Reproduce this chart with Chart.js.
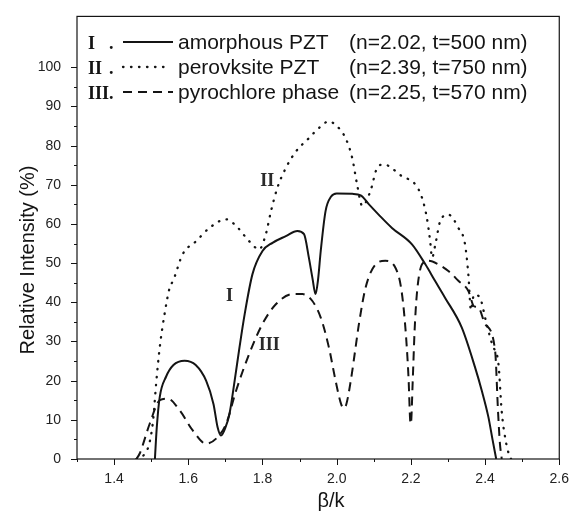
<!DOCTYPE html>
<html>
<head>
<meta charset="utf-8">
<title>Relative Intensity vs β/k</title>
<script src="https://cdn.jsdelivr.net/npm/chart.js"></script>
<style>
  body { margin: 0; background: #fff; }
  #wrap { width: 573px; height: 516px; }
</style>
</head>
<body>
<div id="wrap"><canvas id="chart" width="573" height="516"></canvas></div>
<script>
// curve I - amorphous PZT (solid)
const amorphousX = [1.51, 1.515, 1.523, 1.54, 1.56, 1.59, 1.62, 1.648, 1.668, 1.679, 1.688, 1.70, 1.711, 1.725, 1.738,
  1.752, 1.773, 1.80, 1.827, 1.863, 1.894, 1.912, 1.925, 1.935, 1.943, 1.950, 1.957, 1.970, 1.985, 2.00,
  2.042, 2.065, 2.087, 2.113, 2.149, 2.203, 2.239, 2.265, 2.292, 2.337, 2.373, 2.391, 2.409, 2.42, 2.43];
const amorphousY = [0, 8, 15.8, 21, 24, 25.1, 24, 20, 14, 8.1, 6.0, 8, 11.5, 20, 28.5,
  37, 47.2, 53.1, 55.2, 56.9, 58.2, 57.4, 51.4, 46, 42.1, 46, 53.1, 63.3, 67, 67.8,
  67.7, 67.3, 65, 62.4, 59, 54.8, 49.7, 45.5, 41.2, 33.6, 23.4, 17.5, 10.7, 5, 0];

// curve II - perovskite PZT (dotted)
const perovskiteX = [1.46, 1.48, 1.495, 1.505, 1.514, 1.523, 1.536, 1.55, 1.559, 1.585, 1.621, 1.657, 1.702, 1.729,
  1.756, 1.782, 1.791, 1.809, 1.823, 1.84, 1.863, 1.89, 1.925, 1.952, 1.979, 1.997, 2.024, 2.042, 2.055,
  2.069, 2.091, 2.109, 2.127, 2.176, 2.212, 2.23, 2.243, 2.252, 2.257, 2.266, 2.279, 2.301, 2.328, 2.346,
  2.355, 2.362, 2.37, 2.386, 2.404, 2.42, 2.436, 2.445, 2.455, 2.465, 2.47];
const perovskiteY = [0, 1, 4, 9.8, 20, 28.5, 37, 43.8, 45.5, 52.3, 55.6, 59, 61.2, 59.5,
  56.5, 53.9, 53.5, 57.4, 63.3, 69.2, 74.3, 78.5, 81.9, 84.5, 86.2, 85.3, 81.9, 76.8, 70.1,
  64.6, 68.4, 74.3, 75.2, 72.2, 70.1, 66.7, 61.6, 55.6, 51.4, 54.8, 60.7, 62.4, 59, 54.8,
  47, 38, 42, 41.2, 34.5, 29, 24.3, 12, 5, 1, 0];

// curve III - pyrochlore phase (dashed)
const pyrochloreX = [1.46, 1.469, 1.496, 1.523, 1.545, 1.577, 1.612, 1.648, 1.675, 1.702, 1.729, 1.764, 1.80,
  1.836, 1.881, 1.908, 1.934, 1.957, 1.979, 1.997, 2.012, 2.019, 2.026, 2.038, 2.051, 2.06, 2.078, 2.105,
  2.131, 2.158, 2.172, 2.181, 2.189, 2.194, 2.198, 2.2, 2.205, 2.21, 2.216, 2.23, 2.248, 2.274, 2.301,
  2.328, 2.355, 2.37, 2.382, 2.40, 2.427, 2.435, 2.44, 2.445];
const pyrochloreY = [0, 1.4, 9, 15, 15.4, 12.4, 7.3, 3.9, 5.2, 9, 17.5, 26.8, 34.5,
  39.5, 42.1, 42.1, 40.4, 36.1, 28.5, 20, 14, 13, 14, 20, 28.5, 34.5, 43.8, 49.7,
  50.6, 48.9, 44.6, 38, 28.5, 20, 10, 9, 20, 32.7, 42, 49.7, 50.6, 49.7, 48,
  45.5, 42.9, 39, 38.7, 34.5, 27.7, 12, 4, 0];

// legend / label texts
const romanNumerals = ['I', 'II', 'III'];
const seriesNames = ['amorphous PZT', 'perovksite PZT', 'pyrochlore phase'];
const seriesParams = ['(n=2.02, t=500 nm)', '(n=2.39, t=750 nm)', '(n=2.25, t=570 nm)'];

// where the roman labels sit inside the plot (data units)
const markX = [1.711, 1.813, 1.818];
const markY = [41.6, 70.9, 28.9];

// axes
const xMajorTicks = [1.4, 1.6, 1.8, 2.0, 2.2, 2.4, 2.6];
const yMajorTicks = [0, 10, 20, 30, 40, 50, 60, 70, 80, 90, 100];
const xRange = [1.3, 2.6];
const yRange = [0, 113];

const styles = [
  { borderDash: [], borderWidth: 2 },
  { borderDash: [0.5, 7.5], borderWidth: 2.3 },
  { borderDash: [9, 6], borderWidth: 2 }
];

const toPoints = (xs, ys) => xs.map((x, i) => ({ x: x, y: ys[i] }));
const seriesData = [
  toPoints(amorphousX, amorphousY),
  toPoints(perovskiteX, perovskiteY),
  toPoints(pyrochloreX, pyrochloreY)
];

const INK = '#141414';
const SANS = '"Liberation Sans", Arial, sans-serif';
const SERIF = '"Liberation Serif", "Times New Roman", serif';

// frame, tick marks, roman labels and the boxed legend
const decorations = {
  id: 'decorations',
  afterDraw(chart) {
    const { ctx, chartArea: a, scales: { x, y } } = chart;
    ctx.save();
    ctx.strokeStyle = INK;
    ctx.lineWidth = 1.2;
    ctx.strokeRect(a.left, a.top, a.right - a.left, a.bottom - a.top);

    ctx.lineWidth = 1;
    x.ticks.forEach(t => {
      const px = Math.round(x.getPixelForValue(t.value)) + 0.5;
      const len = t.label ? 6 : 3;
      ctx.beginPath();
      ctx.moveTo(px, a.bottom);
      ctx.lineTo(px, a.bottom + len);
      ctx.stroke();
    });
    y.ticks.forEach(t => {
      const py = Math.round(y.getPixelForValue(t.value)) + 0.5;
      const len = t.label ? 6 : 3;
      ctx.beginPath();
      ctx.moveTo(a.left, py);
      ctx.lineTo(a.left - len, py);
      ctx.stroke();
    });

    // roman numerals next to the curves
    ctx.fillStyle = '#2a2a2a';
    ctx.font = 'bold 18px ' + SERIF;
    ctx.textAlign = 'center';
    ctx.textBaseline = 'middle';
    romanNumerals.forEach((r, i) => {
      ctx.fillText(r, x.getPixelForValue(markX[i]), y.getPixelForValue(markY[i]));
    });

    // legend rows
    const rowY = [43, 68, 93];
    romanNumerals.forEach((r, i) => {
      const ry = rowY[i];
      ctx.fillStyle = INK;
      ctx.textAlign = 'left';
      ctx.font = 'bold 18px ' + SERIF;
      ctx.fillText(r, 88, ry + 1);
      ctx.fillText('.', 109, ry + 1);

      ctx.strokeStyle = INK;
      ctx.lineWidth = styles[i].borderWidth;
      ctx.lineCap = i === 1 ? 'round' : 'butt';
      ctx.setLineDash(styles[i].borderDash);
      ctx.beginPath();
      ctx.moveTo(123, ry - 1);
      ctx.lineTo(i === 1 ? 168 : 173, ry - 1);
      ctx.stroke();
      ctx.setLineDash([]);

      ctx.font = '21px ' + SANS;
      ctx.fillText(seriesNames[i], 178, ry);
      ctx.fillText(seriesParams[i], 349, ry);
    });

    // axis titles
    ctx.fillStyle = INK;
    ctx.font = '20px ' + SANS;
    ctx.textAlign = 'center';
    ctx.fillText('β/k', 331, 501);
    ctx.translate(28, 260);
    ctx.rotate(-Math.PI / 2);
    ctx.fillText('Relative Intensity (%)', 0, 0);
    ctx.restore();
  }
};

new Chart(document.getElementById('chart'), {
  type: 'line',
  data: {
    datasets: seriesData.map((pts, i) => ({
      label: seriesNames[i],
      data: pts,
      borderColor: INK,
      borderWidth: styles[i].borderWidth,
      borderDash: styles[i].borderDash,
      borderCapStyle: i === 1 ? 'round' : 'butt',
      pointRadius: 0,
      fill: false,
      cubicInterpolationMode: 'monotone'
    }))
  },
  options: {
    responsive: false,
    animation: false,
    layout: { padding: { top: 14, right: 10, left: 0, bottom: 0 } },
    plugins: { legend: { display: false }, tooltip: { enabled: false } },
    scales: {
      x: {
        type: 'linear',
        min: xRange[0],
        max: xRange[1],
        grid: { display: false },
        border: { display: false },
        afterBuildTicks(scale) {
          const vals = [xMajorTicks[0] - 0.1];
          xMajorTicks.forEach((v, i) => {
            vals.push(v);
            if (i < xMajorTicks.length - 1) vals.push((v + xMajorTicks[i + 1]) / 2);
          });
          scale.ticks = vals.map(v => ({ value: +v.toFixed(2) }));
        },
        afterFit(scale) { scale.height = 57; },
        ticks: {
          autoSkip: false,
          maxRotation: 0,
          padding: 4,
          color: '#222',
          font: { family: SANS, size: 14 },
          callback: v => xMajorTicks.some(m => Math.abs(m - v) < 1e-6) ? v.toFixed(1) : ''
        }
      },
      y: {
        type: 'linear',
        min: yRange[0],
        max: yRange[1],
        grid: { display: false },
        border: { display: false },
        afterBuildTicks(scale) {
          const vals = [];
          yMajorTicks.forEach((v, i) => {
            vals.push(v);
            if (i < yMajorTicks.length - 1) vals.push((v + yMajorTicks[i + 1]) / 2);
          });
          scale.ticks = vals.map(v => ({ value: v }));
        },
        afterFit(scale) { scale.width = 77; },
        ticks: {
          autoSkip: false,
          padding: 8,
          color: '#222',
          font: { family: SANS, size: 14 },
          callback: v => yMajorTicks.includes(v) ? String(v) : ''
        }
      }
    }
  },
  plugins: [decorations]
});
</script>
</body>
</html>
